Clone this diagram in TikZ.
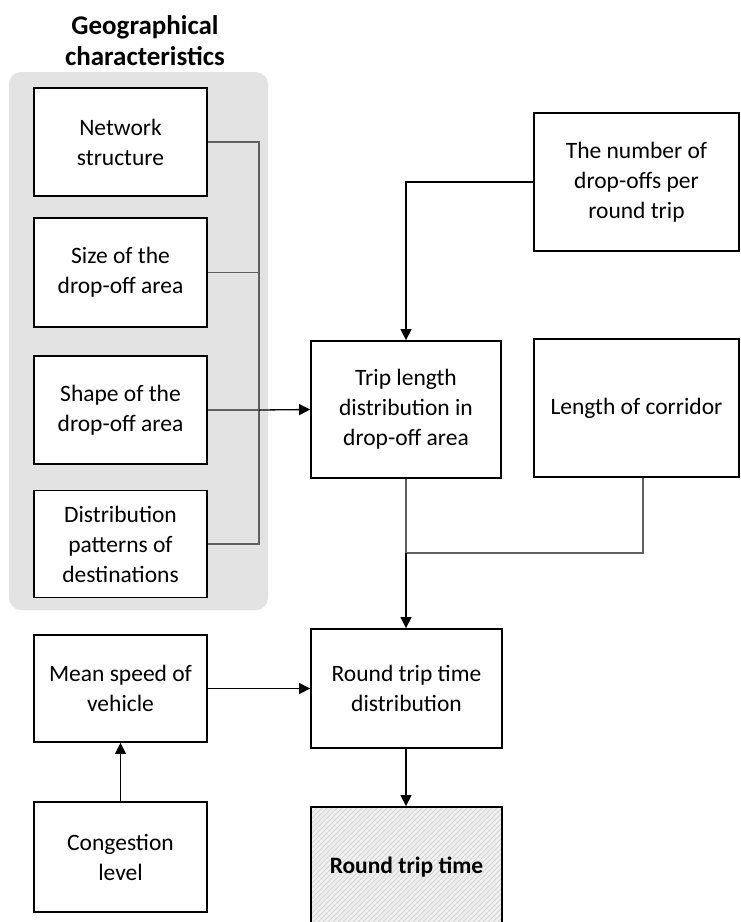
\documentclass[tikz,border=0pt]{standalone}
\usepackage{fontspec}
\setmainfont{Carlito}
\usetikzlibrary{arrows.meta}
\definecolor{panel}{HTML}{E3E3E3}
\definecolor{wire}{HTML}{606060}
\definecolor{hatchbg}{HTML}{F1F1F1}
\definecolor{hatch}{HTML}{D4D4D4}
\begin{document}
\begin{tikzpicture}[x=1pt,y=-1pt,
  box/.style={draw=black,line width=1.8pt,fill=white,align=center,
    font=\fontsize{23.5}{30}\selectfont,inner sep=0pt},
  wire/.style={draw=wire,line width=1.1pt},
  arr/.style={draw=black,line width=1.3pt,-{Triangle[length=11pt,width=11pt]}},
  title/.style={font=\fontsize{27}{31}\selectfont\bfseries,align=center}]
\useasboundingbox (0,0) rectangle (740,922);
\clip (0,0) rectangle (740,922);

% grey panel grouping the geographical factors
\fill[panel,rounded corners=12pt] (9,72) rectangle (268,610);
\node[title] (geo) at (145,41) {Geographical\\characteristics};

% boxes in the panel
\node[box,minimum width=173pt,minimum height=108pt] (net) at (120.5,142) {Network\\structure};
\node[box,minimum width=173pt,minimum height=109pt] (size) at (120.5,272.5) {Size of the\\drop-off area};
\node[box,minimum width=173pt,minimum height=108pt] (shape) at (120.5,410) {Shape of the\\drop-off area};
\node[box,minimum width=173pt,minimum height=107pt] (dist) at (120.5,544) {Distribution\\patterns of\\destinations};

% central column
\node[box,minimum width=190pt,minimum height=137pt] (trip) at (406,409.5) {Trip length\\distribution in\\drop-off area};
\node[box,minimum width=191pt,minimum height=119pt] (rtd) at (406.5,688.5) {Round trip time\\distribution};

% hatched result box
\fill[hatchbg] (311,807) rectangle (502,930);
\begin{scope}
  \clip (311,807) rectangle (502,930);
  \foreach \k in {0,...,75}
    \draw[hatch,line width=0.8pt] (160+\k*5,940) -- (160+\k*5+140,800);
\end{scope}
\node[box,fill=none,minimum width=191pt,minimum height=120pt,
  font=\fontsize{23.5}{30}\selectfont\bfseries] (rtt) at (406.5,867) {Round trip time};

% right column
\node[box,minimum width=205pt,minimum height=138pt] (drops) at (636.5,182) {The number of\\drop-offs per\\round trip};
\node[box,minimum width=205pt,minimum height=138pt] (corr) at (636.5,408) {Length of corridor};

% left lower column
\node[box,minimum width=173pt,minimum height=107pt] (speed) at (120.5,688.5) {Mean speed of\\vehicle};
\node[box,minimum width=173pt,minimum height=110pt] (cong) at (120.5,857) {Congestion\\level};

% bus collecting the geographical factors
\coordinate (bus) at (259,410);
\draw[wire] (net.east) -| (bus);
\draw[wire] (size.east) -- (size.east -| bus);
\draw[wire] (dist.east) -| (bus);
\draw[wire] (shape.east) -- (bus);
\draw[arr] (bus) -- (trip.west);

% drop-offs into trip length
\draw[arr] (drops.west) -| (trip.north);

% trip length and corridor merge into round trip time distribution
\coordinate (merge) at (406,553);
\draw[wire] (trip.south) -- (merge);
\draw[wire] (corr.south -| 643,0) |- (merge);
\draw[arr] (merge) -- (rtd.north -| merge);

% speed and congestion
\draw[arr] (speed.east) -- (rtd.west);
\draw[arr] (cong.north) -- (speed.south);

% result
\draw[arr] (rtd.south -| merge) -- (rtt.north -| merge);
\end{tikzpicture}
\end{document}
